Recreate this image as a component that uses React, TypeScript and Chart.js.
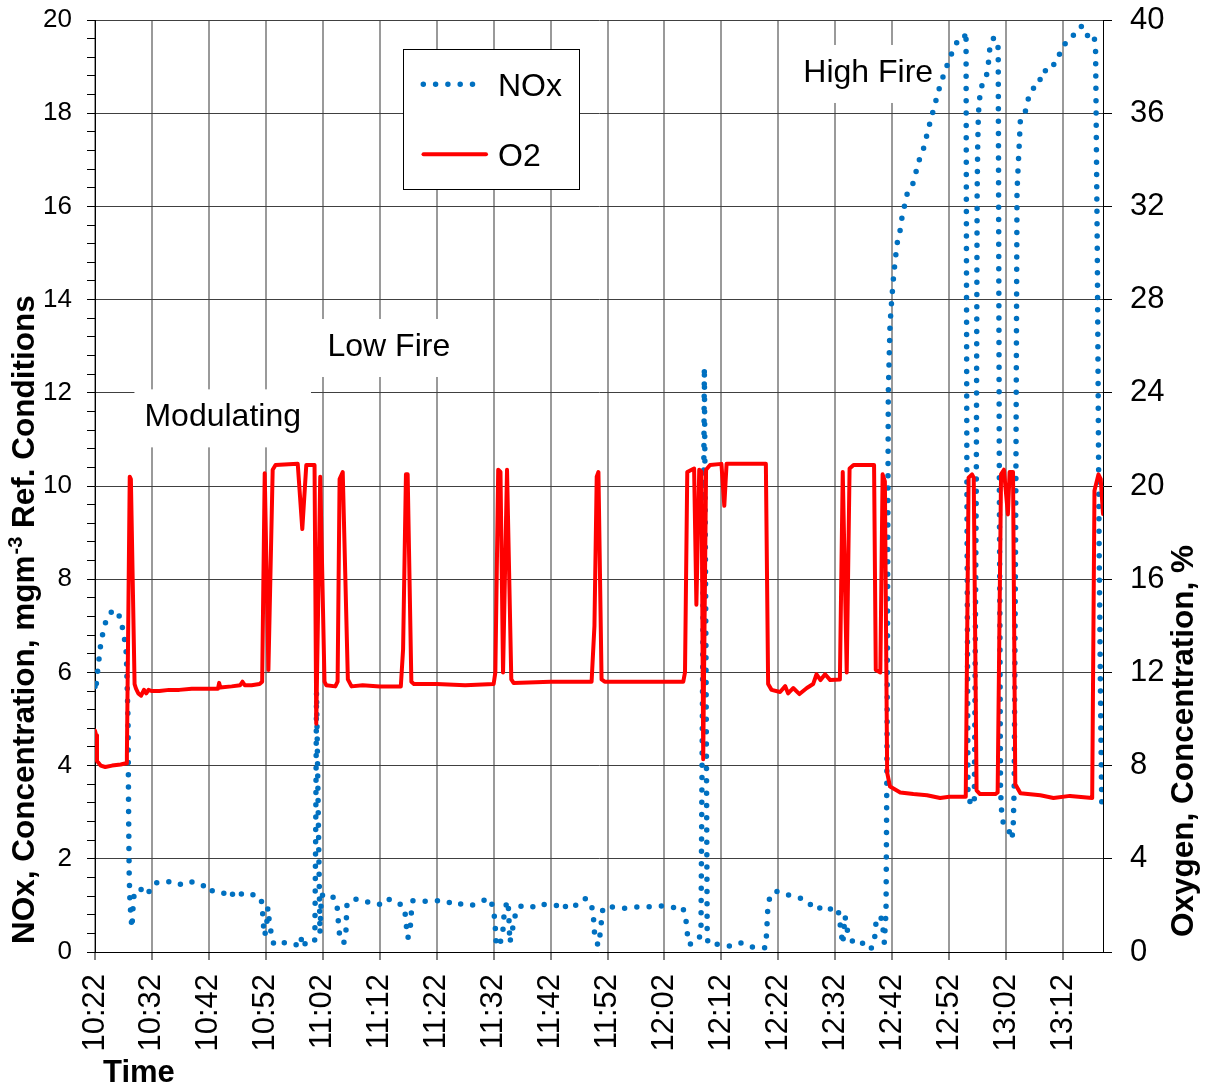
import React, { useEffect, useRef } from 'react';
import { Chart, registerables } from 'chart.js';

Chart.register(...registerables);

const FONT = "'Liberation Sans', Arial, Helvetica, sans-serif";

// x axis: minutes after 10:22
const xMin = 0;
const xMax = 177;
const xTickLabels = ['10:22', '10:32', '10:42', '10:52', '11:02', '11:12', '11:22', '11:32', '11:42', '11:52', '12:02', '12:12', '12:22', '12:32', '12:42', '12:52', '13:02', '13:12'];

// NOx concentration, mg m-3 (left axis)
const noxMinutes = [0.0, 0.15, 0.3, 0.55, 0.8, 1.05, 1.5, 2.05, 2.6, 3.1, 4.57, 4.86, 5.27, 5.5, 5.8, 5.9, 6.0, 6.1, 6.3, 6.5, 6.65, 6.9, 7.8, 8.67, 9.55, 10.72, 12.07, 13.5, 14.7, 15.87, 16.75, 18.04, 19.4, 20.1, 20.97, 22.55, 23.7, 24.66, 26.24, 27.7, 29.17, 29.4, 29.6, 29.76, 30.1, 30.35, 30.6, 30.93, 31.4, 32.8, 33.86, 35.03, 35.9, 36.38, 36.97, 37.85, 38.6, 38.75, 38.9, 39.2, 39.5, 39.75, 40.3, 41.5, 42.47, 42.65, 42.82, 43.07, 43.7, 44.1, 44.2, 45.0, 46.93, 48.1, 49.27, 50.45, 51.6, 52.79, 54.37, 54.55, 54.77, 54.95, 55.37, 55.55, 55.83, 57.3, 59.06, 60.4, 61.7, 63.16, 64.6, 66.1, 68.13, 69.3, 70.0, 70.2, 70.36, 70.45, 71.07, 71.6, 71.75, 72.0, 72.5, 72.65, 72.75, 72.85, 74.0, 75.06, 76.2, 77.5, 78.57, 79.86, 81.03, 81.9, 82.8, 84.07, 85.0, 86.0, 86.9, 87.46, 87.6, 87.74, 88.33, 88.8, 88.94, 89.2, 90.7, 91.86, 93.0, 95.4, 97.7, 99.2, 101.2, 102.4, 103.2, 103.6, 103.8, 104.2, 105.05, 106.0, 106.4, 106.7, 107.0, 107.3, 107.5, 107.7, 108.9, 110.3, 111.8, 113.55, 115.6, 117.65, 117.9, 118.0, 118.1, 118.5, 119.1, 120.2, 121.2, 122.3, 123.7, 124.7, 126.0, 127.0, 127.4, 128.2, 129.1, 129.65, 130.5, 130.8, 131.0, 131.3, 131.7, 132.0, 132.3, 133.5, 134.6, 135.5, 136.1, 136.8, 137.0, 137.2, 137.6, 138.2, 138.6, 138.9, 139.1, 139.3, 139.6, 139.9, 140.2, 140.5, 140.9, 141.4, 141.7, 142.3, 142.55, 143.7, 144.6, 145.5, 146.35, 147.35, 148.4, 149.3, 150.2, 151.3, 152.2, 152.6, 152.95, 153.1, 153.3, 153.8, 154.4, 154.75, 154.9, 155.0, 155.1, 155.2, 155.4, 155.8, 156.6, 156.9, 157.1, 157.5, 157.8, 158.2, 158.6, 158.8, 159.0, 159.25, 159.55, 160.4, 160.8, 161.2, 161.4, 161.7, 161.9, 162.1, 162.3, 162.5, 163.6, 163.95, 164.95, 165.4, 165.9, 166.4, 167.4, 168.15, 168.75, 169.8, 170.5, 171.5, 172.5, 173.4, 174.1, 174.5, 175.5, 175.7, 176.0, 176.3, 176.6, 176.8];
const noxValues = [5.7, 5.6, 5.86, 6.12, 6.39, 6.65, 6.91, 7.16, 7.23, 7.35, 7.17, 6.92, 6.65, 6.4, 5.0, 3.0, 1.69, 1.2, 0.75, 0.52, 0.9, 1.29, 1.3, 1.42, 1.29, 1.48, 1.52, 1.5, 1.44, 1.5, 1.52, 1.43, 1.42, 1.29, 1.33, 1.27, 1.16, 1.33, 1.2, 1.23, 1.16, 0.9, 0.55, 0.35, 0.5, 0.95, 0.66, 0.41, 0.16, 0.2, 0.2, 0.18, 0.1, 0.35, 0.15, 0.17, 0.26, 2.5, 5.58, 3.0, 0.4, 1.22, 1.22, 1.24, 1.04, 0.78, 0.5, 0.25, 0.2, 0.49, 0.99, 1.13, 1.13, 1.06, 1.06, 1.0, 1.13, 1.1, 0.95, 0.7, 0.45, 0.3, 0.54, 0.84, 1.1, 1.08, 1.1, 1.1, 1.1, 1.0, 1.04, 1.0, 1.1, 1.15, 0.92, 0.66, 0.41, 0.13, 0.16, 0.41, 0.7, 0.95, 1.1, 0.84, 0.5, 0.2, 0.92, 1.0, 1.0, 0.95, 1.02, 1.02, 1.0, 0.9, 1.0, 0.95, 1.1, 1.15, 1.1, 0.87, 0.6, 0.36, 0.14, 0.45, 0.7, 0.95, 0.97, 0.95, 0.94, 0.97, 0.97, 0.99, 0.97, 0.92, 0.96, 0.8, 0.65, 0.17, 0.17, 0.3, 0.36, 6.0, 12.55, 6.0, 0.3, 0.17, 0.17, 0.16, 0.12, 0.2, 0.1, 0.09, 0.35, 0.58, 0.86, 1.2, 1.29, 1.3, 1.25, 1.2, 1.16, 1.13, 0.97, 0.9, 0.97, 0.99, 0.92, 0.97, 0.9, 0.64, 0.43, 0.17, 0.77, 0.55, 0.34, 0.16, 0.2, 0.14, 0.05, 0.17, 0.43, 0.72, 0.77, 0.71, 0.2, 0.86, 5.0, 12.0, 13.46, 14.0, 14.45, 14.84, 15.24, 15.5, 15.76, 16.1, 16.25, 16.51, 16.95, 17.25, 17.67, 18.13, 18.6, 18.92, 19.22, 19.51, 19.62, 19.6, 19.75, 10.0, 3.3, 3.2, 3.15, 10.0, 16.3, 17.3, 17.87, 18.13, 18.39, 18.63, 18.84, 19.1, 19.36, 19.46, 19.63, 19.55, 19.4, 10.0, 3.5, 2.88, 2.75, 2.68, 2.42, 2.55, 3.5, 10.0, 16.32, 16.85, 17.35, 17.88, 18.09, 18.36, 18.57, 18.7, 18.7, 18.92, 18.9, 18.96, 19.21, 19.31, 19.54, 19.61, 19.82, 19.87, 19.77, 19.54, 19.59, 19.32, 15.0, 9.0, 5.0, 3.0];

// Oxygen concentration, % (right axis)
const o2Minutes = [0, 0.2, 0.35, 1.0, 1.8, 3.0, 4.5, 5.45, 5.6, 6.1, 6.3, 6.95, 7.2, 7.6, 8.1, 8.6, 9.0, 9.4, 10.0, 11.3, 13.0, 14.8, 17.0, 20.1, 21.6, 21.8, 22.0, 24.0, 25.5, 25.9, 26.3, 27.5, 28.9, 29.35, 29.8, 30.45, 31.2, 31.7, 35.6, 36.4, 37.1, 38.55, 38.85, 39.55, 40.3, 40.6, 42.2, 42.6, 42.95, 43.5, 44.4, 45.05, 47.0, 50.0, 53.7, 54.1, 54.6, 54.9, 55.55, 56.0, 60.0, 65.0, 70.0, 70.3, 70.8, 71.2, 71.65, 72.35, 73.1, 73.5, 80.0, 87.2, 87.7, 88.1, 88.4, 88.95, 89.5, 95.0, 103.3, 103.6, 104.0, 105.2, 105.6, 106.1, 106.5, 106.8, 107.3, 108.0, 110.0, 110.5, 110.9, 117.8, 118.2, 118.8, 120.3, 121.2, 121.7, 122.6, 123.7, 125.0, 126.1, 126.7, 127.4, 128.2, 129.1, 130.8, 131.3, 132.0, 132.5, 133.2, 136.8, 137.1, 137.9, 138.3, 138.7, 139.1, 139.6, 141.4, 143.7, 146.1, 148.4, 150.0, 152.9, 153.4, 154.0, 154.3, 154.8, 155.4, 158.1, 158.5, 159.1, 159.6, 160.3, 160.6, 161.2, 161.6, 162.5, 166.0, 168.3, 171.2, 175.1, 175.5, 176.2, 176.6, 177.0];
const o2Values = [9.5, 9.3, 8.2, 8.0, 7.94, 8.0, 8.05, 8.1, 8.4, 20.4, 20.3, 11.5, 11.3, 11.1, 11.0, 11.25, 11.1, 11.25, 11.2, 11.2, 11.25, 11.25, 11.3, 11.3, 11.3, 11.55, 11.35, 11.4, 11.45, 11.6, 11.45, 11.45, 11.5, 11.6, 20.55, 12.1, 20.7, 20.9, 20.95, 18.15, 20.9, 20.9, 9.8, 20.4, 11.6, 11.45, 11.4, 11.6, 20.3, 20.6, 11.7, 11.4, 11.45, 11.4, 11.4, 13.0, 20.5, 20.5, 11.6, 11.5, 11.5, 11.45, 11.5, 12.0, 20.7, 20.6, 12.0, 20.7, 11.7, 11.55, 11.6, 11.6, 14.0, 20.4, 20.6, 11.7, 11.6, 11.6, 11.6, 12.0, 20.6, 20.75, 14.9, 20.7, 20.6, 8.27, 20.7, 20.9, 20.95, 19.15, 20.95, 20.95, 11.5, 11.25, 11.16, 11.41, 11.1, 11.33, 11.07, 11.33, 11.5, 11.92, 11.67, 11.92, 11.67, 11.7, 20.6, 12.0, 20.75, 20.9, 20.9, 12.1, 12.0, 20.5, 20.2, 7.7, 7.1, 6.85, 6.78, 6.73, 6.61, 6.66, 6.66, 20.36, 20.5, 20.36, 6.94, 6.78, 6.78, 6.85, 20.5, 20.7, 18.78, 20.6, 20.6, 7.2, 6.81, 6.73, 6.61, 6.7, 6.61, 19.8, 20.5, 20.3, 18.8];

// Text annotations placed in data coordinates (minute, NOx value of text baseline)
const annotationTexts = ['Modulating', 'Low Fire', 'High Fire'];
const annotationMinutes = [8.68, 40.83, 124.38];
const annotationValues = [11.28, 12.79, 18.67];

const isMajor = (v: number | undefined) =>
  v !== undefined && Math.abs(v / 2 - Math.round(v / 2)) < 1e-6;

const zeroPad = (s: any) => {
  s.paddingTop = 0;
  s.paddingBottom = 0;
  s.paddingLeft = 0;
  s.paddingRight = 0;
};

const decorPlugin = {
  id: 'decor',
  beforeDatasetsDraw(chart: any) {
    const ctx = chart.ctx as CanvasRenderingContext2D;
    const xs = chart.scales.x;
    const ys = chart.scales.y;
    ctx.save();
    ctx.font = `32px ${FONT}`;
    ctx.textBaseline = 'alphabetic';
    ctx.textAlign = 'left';
    annotationTexts.forEach((t, i) => {
      const px = xs.getPixelForValue(annotationMinutes[i]);
      const py = ys.getPixelForValue(annotationValues[i]);
      const w = ctx.measureText(t).width;
      ctx.fillStyle = '#ffffff';
      ctx.fillRect(px - 10, py - 37, w + 20, 58);
      ctx.fillStyle = '#000000';
      ctx.fillText(t, px, py);
    });
    ctx.restore();
  },
  afterDraw(chart: any) {
    const ctx = chart.ctx as CanvasRenderingContext2D;
    ctx.save();
    // Legend
    ctx.fillStyle = '#ffffff';
    ctx.fillRect(403, 49, 176, 140);
    ctx.strokeStyle = '#000000';
    ctx.lineWidth = 1;
    ctx.strokeRect(403.5, 49.5, 176, 140);
    ctx.strokeStyle = '#0070C0';
    ctx.lineWidth = 5.5;
    ctx.lineCap = 'round';
    ctx.setLineDash([0, 12.3]);
    ctx.beginPath();
    ctx.moveTo(423.3, 84.3);
    ctx.lineTo(476, 84.3);
    ctx.stroke();
    ctx.setLineDash([]);
    ctx.strokeStyle = '#FF0000';
    ctx.lineWidth = 4;
    ctx.beginPath();
    ctx.moveTo(423.5, 154.3);
    ctx.lineTo(486, 154.3);
    ctx.stroke();
    ctx.fillStyle = '#000000';
    ctx.font = `32px ${FONT}`;
    ctx.textBaseline = 'alphabetic';
    ctx.textAlign = 'left';
    ctx.fillText('NOx', 498, 96);
    ctx.fillText('O2', 498, 166);

    // Left axis title (with superscript)
    ctx.save();
    ctx.translate(34, 944);
    ctx.rotate(-Math.PI / 2);
    ctx.font = `bold 31.5px ${FONT}`;
    const p1 = 'NOx, Concentration, mgm';
    ctx.fillText(p1, 0, 0);
    const w1 = ctx.measureText(p1).width;
    ctx.font = `bold 20px ${FONT}`;
    const sup = '-3';
    ctx.fillText(sup, w1 + 1, -12);
    const w2 = ctx.measureText(sup).width;
    ctx.font = `bold 31.5px ${FONT}`;
    ctx.fillText(' Ref. Conditions', w1 + w2 + 1, 0);
    ctx.restore();

    // Right axis title
    ctx.save();
    ctx.translate(1193, 937);
    ctx.rotate(-Math.PI / 2);
    ctx.font = `bold 31.5px ${FONT}`;
    ctx.fillText('Oxygen, Concentration, %', 0, 0);
    ctx.restore();

    // X axis title
    ctx.font = `bold 31px ${FONT}`;
    ctx.fillText('Time', 103, 1082);
    ctx.restore();
  },
};

export default function App() {
  const canvasRef = useRef<HTMLCanvasElement>(null);

  useEffect(() => {
    if (!canvasRef.current) return;
    Chart.defaults.font.family = FONT;
    Chart.defaults.color = '#000000';

    const chart = new Chart(canvasRef.current, {
      type: 'line',
      data: {
        datasets: [
          {
            label: 'NOx',
            data: noxMinutes.map((m, i) => ({ x: m, y: noxValues[i] })),
            yAxisID: 'y',
            borderColor: '#0070C0',
            backgroundColor: '#0070C0',
            borderWidth: 5.5,
            borderDash: [0, 12.3],
            borderCapStyle: 'round',
            borderJoinStyle: 'round',
            pointRadius: 0,
            tension: 0,
            fill: false,
            order: 2,
          },
          {
            label: 'O2',
            data: o2Minutes.map((m, i) => ({ x: m, y: o2Values[i] })),
            yAxisID: 'y2',
            borderColor: '#FF0000',
            backgroundColor: '#FF0000',
            borderWidth: 4,
            borderCapStyle: 'round',
            borderJoinStyle: 'round',
            pointRadius: 0,
            tension: 0,
            fill: false,
            order: 1,
          },
        ],
      },
      options: {
        responsive: false,
        animation: false,
        events: [],
        layout: { autoPadding: false, padding: { top: 20, left: 0, right: 0, bottom: 0 } },
        plugins: {
          legend: { display: false },
          tooltip: { enabled: false },
          title: { display: false },
        },
        scales: {
          x: {
            type: 'linear',
            position: 'bottom',
            min: xMin,
            max: xMax,
            afterFit: (s: any) => {
              s.height = 138;
              zeroPad(s);
            },
            ticks: {
              stepSize: 10,
              autoSkip: false,
              includeBounds: false,
              minRotation: 90,
              maxRotation: 90,
              padding: 14,
              color: '#000000',
              font: { size: 31, family: FONT },
              callback: (v: any) => xTickLabels[Math.round(Number(v) / 10)] ?? '',
            },
            grid: {
              color: '#9a9a9a',
              lineWidth: 2,
              tickLength: 8,
              tickColor: '#000000',
              tickWidth: 1,
            },
            border: { color: '#000000', width: 1 },
          },
          y: {
            type: 'linear',
            position: 'left',
            min: 0,
            max: 20,
            afterFit: (s: any) => {
              s.width = 95;
              zeroPad(s);
            },
            ticks: {
              stepSize: 0.4,
              maxTicksLimit: 100,
              autoSkip: false,
              padding: 15,
              color: '#000000',
              font: { size: 26, family: FONT },
              callback: (v: any) => (isMajor(Number(v)) ? String(Math.round(Number(v))) : ''),
            },
            grid: {
              color: (c: any) => (isMajor(c.tick?.value) ? '#404040' : 'rgba(0,0,0,0)'),
              lineWidth: 1,
              tickLength: 8,
              tickColor: '#000000',
              tickWidth: 1,
            },
            border: { color: '#000000', width: 1 },
          },
          y2: {
            type: 'linear',
            position: 'right',
            min: 0,
            max: 40,
            afterFit: (s: any) => {
              s.width = 106;
              zeroPad(s);
            },
            ticks: {
              stepSize: 4,
              padding: 18,
              color: '#000000',
              font: { size: 31, family: FONT },
            },
            grid: {
              drawOnChartArea: false,
              tickLength: 9,
              tickColor: '#000000',
              tickWidth: 1,
            },
            border: { color: '#000000', width: 1 },
          },
        },
      } as any,
      plugins: [decorPlugin],
    });

    return () => chart.destroy();
  }, []);

  return (
    <div style={{ position: 'absolute', left: 0, top: 0, width: 1209, height: 1090, background: '#ffffff' }}>
      <canvas ref={canvasRef} width={1209} height={1090} style={{ display: 'block' }} />
    </div>
  );
}
